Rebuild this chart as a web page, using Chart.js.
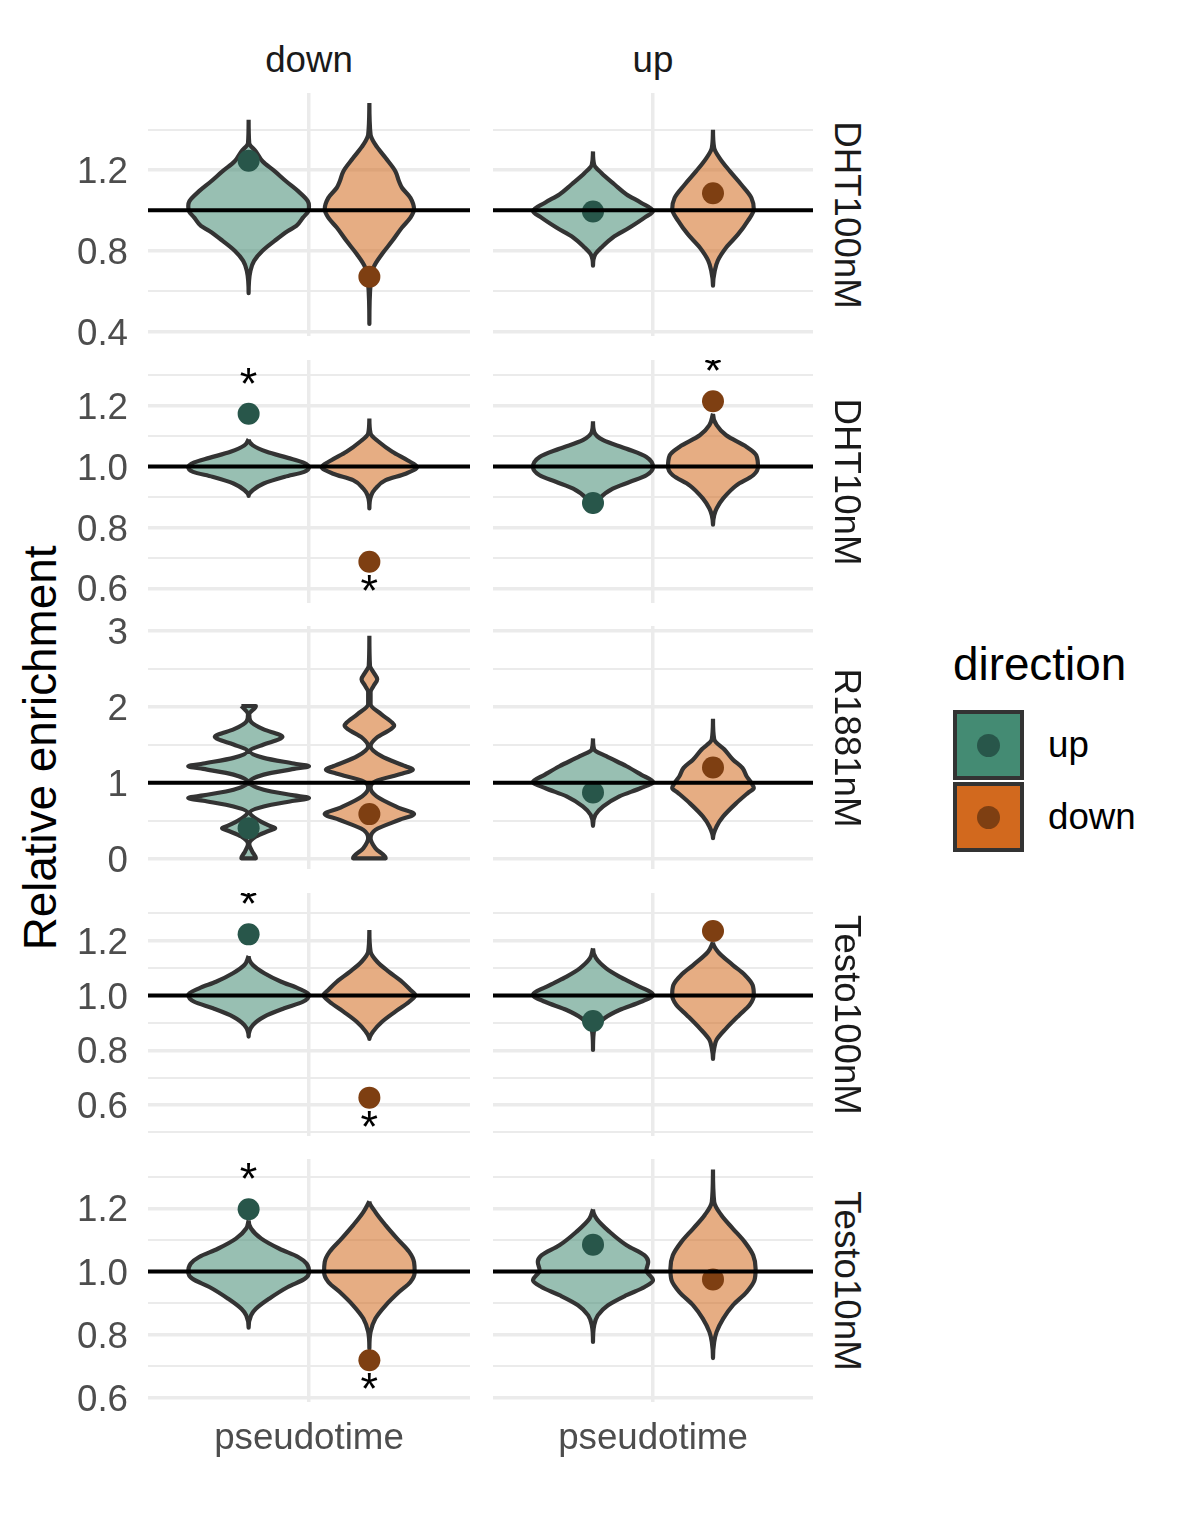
<!DOCTYPE html>
<html>
<head>
<meta charset="utf-8">
<script src="https://cdn.jsdelivr.net/npm/chart.js@4.4.1/dist/chart.umd.min.js"></script>
<style>
  body { margin: 0; background: #fff; }
  #page { position: relative; width: 1181px; height: 1535px; overflow: hidden; font-family: "Liberation Sans", Arial, Helvetica, sans-serif; }
  #page canvas { position: absolute; }
  .lbl { position: absolute; white-space: nowrap; line-height: 1; }
  .strip { font-size: 36.7px; color: #1a1a1a; }
  .key { position: absolute; left: 953px; width: 71px; height: 70px; box-sizing: border-box; border: 4px solid #333; }
  .key span { position: absolute; left: 50%; top: 50%; width: 23px; height: 23px; margin: -11.5px 0 0 -11.5px; border-radius: 50%; }
</style>
</head>
<body>
<div id="page">
  <div class="lbl strip" style="left:309px; top:42px; transform:translateX(-50%);">down</div>
  <div class="lbl strip" style="left:653px; top:42px; transform:translateX(-50%);">up</div>
  <div class="lbl" style="left:41px; top:748px; font-size:45.8px; color:#000; transform:translate(-50%,-50%) rotate(-90deg);">Relative enrichment</div>

  <!-- 범례 -->
  <div class="lbl" style="left:953px; top:642px; font-size:45.8px; color:#000;">direction</div>
  <div class="key" style="top:710px; background:#448b73;"><span style="background:#28564a;"></span></div>
  <div class="key" style="top:782px; background:#d2691e;"><span style="background:#7e3f12;"></span></div>
  <div class="lbl" style="left:1048px; top:726.6px; font-size:36.7px; color:#000;">up</div>
  <div class="lbl" style="left:1048px; top:798.6px; font-size:36.7px; color:#000;">down</div>
</div>
<script>
// 패널 구분
const treatments = ['DHT100nM', 'DHT10nM', 'R1881nM', 'Testo100nM', 'Testo10nM'];
const facets = ['down', 'up'];
const directions = ['up', 'down'];
const xLabel = 'pseudotime';

// 관측값: 각 처리별 [down 패널, up 패널]
const observedUp = [[1.246, 0.994], [1.173, 0.880], [0.40, 0.87], [1.223, 0.907], [1.197, 1.085]];
const observedDown = [[0.671, 1.085], [0.687, 1.214], [0.585, 1.199], [0.627, 1.235], [0.719, 0.975]];
// 유의성 표시(*)
const starUp = [[0, 0], [1, 0], [0, 0], [1, 0], [1, 0]];
const starDown = [[0, 0], [1, 1], [0, 0], [1, 0], [1, 0]];

// y축 범위와 눈금
const yLimits = [[0.378, 1.581], [0.552, 1.349], [-0.139, 3.066], [0.487, 1.374], [0.587, 1.356]];
const majorTicks = [[0.4, 0.8, 1.2], [0.6, 0.8, 1.0, 1.2], [0, 1, 2, 3], [0.6, 0.8, 1.0, 1.2], [0.6, 0.8, 1.0, 1.2]];
const tickLabels = [['0.4', '0.8', '1.2'], ['0.6', '0.8', '1.0', '1.2'], ['0', '1', '2', '3'], ['0.6', '0.8', '1.0', '1.2'], ['0.6', '0.8', '1.0', '1.2']];
const minorTicks = [[0.6, 1.0, 1.4], [0.7, 0.9, 1.1, 1.3], [0.5, 1.5, 2.5], [0.5, 0.7, 0.9, 1.1, 1.3], [0.7, 0.9, 1.1, 1.3]];

// 바이올린 윤곽: [값, 상대 폭]  순서 = [down패널 up, down패널 down, up패널 up, up패널 down]
const dht100nMViolins = [
  [[1.448,0],[1.333,0.01],[1.292,0.12],[1.243,0.23],[1.194,0.43],[1.144,0.62],[1.095,0.82],[1.046,0.98],[1.021,1.0],[0.997,0.99],[0.964,0.9],[0.923,0.79],[0.898,0.65],[0.849,0.43],[0.800,0.23],[0.750,0.09],[0.701,0.03],[0.590,0]],
  [[1.531,0],[1.374,0.02],[1.325,0.1],[1.259,0.27],[1.194,0.43],[1.144,0.49],[1.112,0.54],[1.062,0.68],[1.005,0.74],[0.964,0.68],[0.915,0.54],[0.849,0.38],[0.784,0.21],[0.718,0.07],[0.636,0.02],[0.438,0]],
  [[1.292,0],[1.226,0.02],[1.185,0.14],[1.128,0.36],[1.079,0.56],[1.038,0.8],[0.997,1.0],[0.964,0.86],[0.915,0.61],[0.866,0.33],[0.816,0.14],[0.784,0.04],[0.726,0]],
  [[1.399,0],[1.308,0.02],[1.259,0.11],[1.194,0.28],[1.128,0.47],[1.062,0.64],[1.005,0.68],[0.948,0.58],[0.882,0.42],[0.816,0.22],[0.751,0.08],[0.702,0.03],[0.627,0]]
];
const dht10nMViolins = [
  [[1.089,0],[1.069,0.07],[1.048,0.3],[1.028,0.65],[1.013,0.9],[0.998,1.0],[0.982,0.92],[0.966,0.6],[0.944,0.25],[0.922,0.07],[0.903,0]],
  [[1.157,0],[1.108,0.02],[1.080,0.16],[1.048,0.38],[1.020,0.63],[0.998,0.79],[0.976,0.6],[0.955,0.27],[0.927,0.1],[0.905,0.03],[0.862,0]],
  [[1.148,0],[1.113,0.02],[1.086,0.17],[1.058,0.56],[1.031,0.89],[0.998,1.0],[0.971,0.89],[0.949,0.61],[0.927,0.33],[0.895,0.11],[0.862,0.03],[0.851,0]],
  [[1.173,0],[1.135,0.06],[1.102,0.22],[1.064,0.56],[1.037,0.72],[0.998,0.75],[0.971,0.67],[0.938,0.39],[0.895,0.17],[0.862,0.06],[0.840,0.02],[0.809,0]]
];
const r1881nMViolins = [
  [[2.011,0.12],[1.901,0.01],[1.812,0.03],[1.702,0.25],[1.636,0.5],[1.605,0.56],[1.570,0.5],[1.503,0.25],[1.415,0.02],[1.327,0.25],[1.252,0.75],[1.216,1.0],[1.181,0.75],[1.106,0.25],[1.004,0.01],[0.907,0.25],[0.832,0.75],[0.797,1.0],[0.761,0.75],[0.686,0.25],[0.607,0.02],[0.510,0.15],[0.430,0.35],[0.400,0.44],[0.369,0.35],[0.289,0.12],[0.192,0.01],[0.091,0.06],[0.002,0.12]],
  [[2.938,0],[2.541,0.01],[2.453,0.07],[2.364,0.13],[2.276,0.07],[2.196,0.02],[2.033,0.02],[1.901,0.2],[1.790,0.38],[1.755,0.41],[1.702,0.35],[1.592,0.12],[1.481,0.02],[1.349,0.2],[1.216,0.6],[1.172,0.72],[1.119,0.55],[1.018,0.1],[0.929,0.02],[0.819,0.12],[0.664,0.5],[0.585,0.74],[0.510,0.5],[0.377,0.1],[0.267,0.02],[0.135,0.1],[0.002,0.27]],
  [[1.583,0],[1.437,0.02],[1.349,0.22],[1.216,0.56],[1.106,0.8],[1.009,1.0],[0.929,0.8],[0.819,0.44],[0.686,0.17],[0.576,0.04],[0.430,0]],
  [[1.843,0],[1.570,0.02],[1.437,0.19],[1.305,0.33],[1.194,0.49],[1.084,0.56],[0.996,0.64],[0.929,0.68],[0.863,0.58],[0.731,0.39],[0.554,0.17],[0.422,0.06],[0.267,0]]
];
const testo100nMViolins = [
  [[1.144,0],[1.111,0.07],[1.081,0.26],[1.050,0.54],[1.026,0.82],[1.002,1.0],[0.977,0.9],[0.953,0.59],[0.923,0.26],[0.892,0.07],[0.850,0]],
  [[1.239,0],[1.160,0.02],[1.123,0.13],[1.087,0.32],[1.050,0.54],[1.020,0.68],[1.002,0.76],[0.977,0.66],[0.941,0.43],[0.904,0.21],[0.868,0.06],[0.841,0]],
  [[1.172,0],[1.136,0.05],[1.099,0.22],[1.069,0.44],[1.038,0.72],[1.002,1.0],[0.977,0.8],[0.947,0.44],[0.917,0.19],[0.880,0.03],[0.860,0.01],[0.801,0]],
  [[1.194,0],[1.160,0.08],[1.111,0.33],[1.075,0.53],[1.038,0.66],[1.002,0.68],[0.965,0.61],[0.929,0.44],[0.880,0.22],[0.838,0.06],[0.807,0.02],[0.768,0]]
];
const testo10nMViolins = [
  [[1.162,0],[1.136,0.04],[1.104,0.21],[1.072,0.51],[1.046,0.82],[1.025,0.96],[0.998,1.0],[0.977,0.93],[0.951,0.65],[0.914,0.34],[0.882,0.12],[0.861,0.04],[0.822,0]],
  [[1.222,0],[1.188,0.1],[1.146,0.27],[1.104,0.46],[1.062,0.66],[1.030,0.74],[0.998,0.75],[0.967,0.68],[0.935,0.49],[0.893,0.27],[0.851,0.1],[0.809,0.02],[0.756,0]],
  [[1.197,0],[1.167,0.06],[1.125,0.28],[1.083,0.56],[1.051,0.86],[1.030,0.92],[1.004,0.89],[0.972,1.0],[0.951,0.86],[0.925,0.56],[0.893,0.25],[0.861,0.08],[0.830,0.02],[0.777,0]],
  [[1.323,0],[1.220,0.02],[1.178,0.14],[1.136,0.33],[1.093,0.53],[1.051,0.67],[1.009,0.71],[0.972,0.69],[0.935,0.56],[0.893,0.33],[0.851,0.17],[0.809,0.06],[0.777,0.02],[0.726,0]]
];
const violinProfiles = [dht100nMViolins, dht10nMViolins, r1881nMViolins, testo100nMViolins, testo10nMViolins];

// 스타일
const FONT = '"Liberation Sans", Arial, Helvetica, sans-serif';
const fillColors = ['rgba(68,139,115,0.55)', 'rgba(210,105,30,0.55)'];
const dotColors = ['#28564a', '#7e3f12'];
const GRID = '#ebebeb';

// 패널 위치 (px)
const panelLeft = [148, 493];
const panelWidth = [322, 320];
const panelTop = [93, 360, 626, 893, 1159];
const panelHeight = 243;
const yAxisW = 110;
const pad = 22;
const xAxisH = 70;

// 이산 x축: 카테고리 하나(1), 범위 0.4~1.6, dodge 폭 0.9
const xCenter = 1, dodgeOff = 0.225, maxHalf = 0.225;

function violinOutline(profile, center) {
  const left = profile.map(p => ({ x: center - p[1] * maxHalf, y: p[0] }));
  const right = profile.slice().reverse().map(p => ({ x: center + p[1] * maxHalf, y: p[0] }));
  const pts = left.concat(right);
  pts.push(left[0]);
  return pts;
}

function near(list, v) {
  return list.findIndex(t => Math.abs(t - v) < 1e-6);
}

// 축 라벨이 차트 영역을 밀어내지 않도록
function noPadding(s) {
  s.paddingTop = 0;
  s.paddingBottom = 0;
  s.paddingLeft = 0;
  s.paddingRight = 0;
}

const page = document.getElementById('page');

treatments.forEach((trt, r) => {
  facets.forEach((facet, c) => {
    const isLeft = c === 0;
    const isBottom = r === treatments.length - 1;
    const canvas = document.createElement('canvas');
    const cLeft = isLeft ? panelLeft[c] - yAxisW : panelLeft[c];
    const cWidth = panelWidth[c] + (isLeft ? yAxisW : 0);
    const cHeight = panelHeight + pad * 2 + (isBottom ? xAxisH - pad : 0);
    canvas.width = cWidth;
    canvas.height = cHeight;
    canvas.style.left = cLeft + 'px';
    canvas.style.top = (panelTop[r] - pad) + 'px';
    page.appendChild(canvas);

    const xs = [xCenter - dodgeOff, xCenter + dodgeOff];
    const obs = [observedUp[r][c], observedDown[r][c]];
    const stars = [starUp[r][c], starDown[r][c]];

    const datasets = [];
    // 기준선 y = 1
    datasets.push({
      data: [{ x: 0.4, y: 1 }, { x: 1.6, y: 1 }],
      borderColor: '#000', borderWidth: 4, pointRadius: 0, fill: false, order: 0
    });
    directions.forEach((dir, d) => {
      datasets.push({
        data: [{ x: xs[d], y: obs[d] }],
        showLine: false, pointRadius: 11, pointBorderWidth: 0,
        pointBackgroundColor: dotColors[d], order: 1
      });
      datasets.push({
        data: violinOutline(violinProfiles[r][c * 2 + d], xs[d]),
        indexAxis: 'y',
        borderColor: '#333333', borderWidth: 4.2,
        borderJoinStyle: 'round',
        backgroundColor: fillColors[d],
        fill: 'shape', pointRadius: 0,
        cubicInterpolationMode: 'monotone',
        order: 2
      });
    });

    const allTicks = majorTicks[r].concat(minorTicks[r]).sort((a, b) => a - b);

    // 유의성 별표
    const starPlugin = {
      id: 'stars',
      afterDatasetsDraw(chart) {
        const { ctx, chartArea, scales } = chart;
        ctx.save();
        ctx.beginPath();
        ctx.rect(chartArea.left, chartArea.top, chartArea.right - chartArea.left, chartArea.bottom - chartArea.top);
        ctx.clip();
        ctx.font = '45px ' + FONT;
        ctx.fillStyle = '#000';
        ctx.textAlign = 'center';
        ctx.textBaseline = 'alphabetic';
        const m = ctx.measureText('*');
        const mid = (m.actualBoundingBoxAscent - m.actualBoundingBoxDescent) / 2;
        directions.forEach((dir, d) => {
          if (!stars[d]) return;
          const above = obs[d] > 1;
          const px = scales.x.getPixelForValue(xs[d]);
          const py = scales.y.getPixelForValue(obs[d]) + (above ? -38 : 21);
          ctx.fillText('*', px, py + mid);
        });
        ctx.restore();
      }
    };

    new Chart(canvas, {
      type: 'line',
      data: { datasets: datasets },
      options: {
        responsive: false,
        animation: false,
        events: [],
        layout: { autoPadding: false, padding: { top: pad, bottom: isBottom ? 0 : pad, left: 0, right: 0 } },
        plugins: { legend: { display: false }, tooltip: { enabled: false } },
        scales: {
          x: {
            type: 'linear', min: 0.4, max: 1.6,
            afterBuildTicks: s => { s.ticks = [{ value: xCenter }]; },
            afterFit: s => { s.height = isBottom ? xAxisH : 0; noPadding(s); },
            grid: { color: GRID, lineWidth: 3.5, drawTicks: false },
            border: { display: false },
            ticks: {
              display: isBottom, padding: 15, color: '#4d4d4d', maxRotation: 0,
              font: { size: 36.7, family: FONT },
              callback: () => xLabel
            }
          },
          y: {
            type: 'linear', min: yLimits[r][0], max: yLimits[r][1],
            afterBuildTicks: s => { s.ticks = allTicks.map(v => ({ value: v })); },
            afterFit: s => { s.width = isLeft ? yAxisW : 0; noPadding(s); },
            grid: {
              color: GRID, drawTicks: false,
              lineWidth: ctx => (ctx.tick && near(majorTicks[r], ctx.tick.value) >= 0) ? 3.5 : 2
            },
            border: { display: false },
            ticks: {
              display: isLeft, padding: 20, autoSkip: false, color: '#4d4d4d', labelOffset: 3,
              font: { size: 36.7, family: FONT },
              callback: v => {
                const i = near(majorTicks[r], v);
                return i >= 0 ? tickLabels[r][i] : '';
              }
            }
          }
        }
      },
      plugins: [starPlugin]
    });
  });

  // 오른쪽 스트립 라벨
  const strip = document.createElement('div');
  strip.className = 'lbl strip';
  strip.textContent = trt;
  strip.style.left = '847px';
  strip.style.top = (panelTop[r] + panelHeight / 2) + 'px';
  strip.style.transform = 'translate(-50%,-50%) rotate(90deg)';
  page.appendChild(strip);
});
</script>
</body>
</html>
